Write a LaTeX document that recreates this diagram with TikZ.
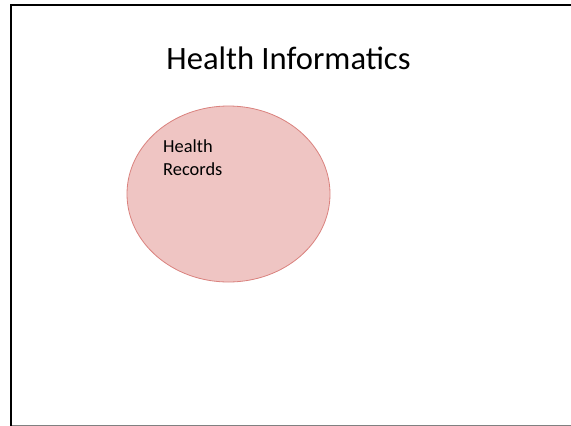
\documentclass[tikz,border=0pt]{standalone}
\usepackage{fontspec}
\setmainfont{Carlito}
\definecolor{recfill}{RGB}{239,197,195}
\definecolor{recline}{RGB}{218,130,126}
\tikzset{>=latex}
\tikzset{
  slidetitle/.style={font=\fontsize{32.6}{38}\selectfont, anchor=base},
  bodytext/.style={font=\fontsize{18.4}{22.7}\selectfont, align=left, anchor=north west, inner sep=0pt}
}

\begin{document}
\begin{tikzpicture}[x=1pt,y=-1pt]
  \useasboundingbox (0,0) rectangle (571,426);
  \fill[white] (0,0) rectangle (571,426);
  % slide frame
  \draw[line width=1pt,gray] (10,425.5) -- (571,425.5);
  \draw[line width=2pt,black] (10.5,426) -- (10.5,4.5) -- (571,4.5);
  \node[slidetitle] (title) at (288.5,69) {Health Informatics};
  % records circle
  \coordinate (C) at (228.5,194);
  \draw[fill=recfill,draw=recline,line width=0.8pt] (C) ellipse [x radius=101.5, y radius=88];
  \node[bodytext] (records) at (163,140) {Health\\Records};
\end{tikzpicture}
\end{document}
